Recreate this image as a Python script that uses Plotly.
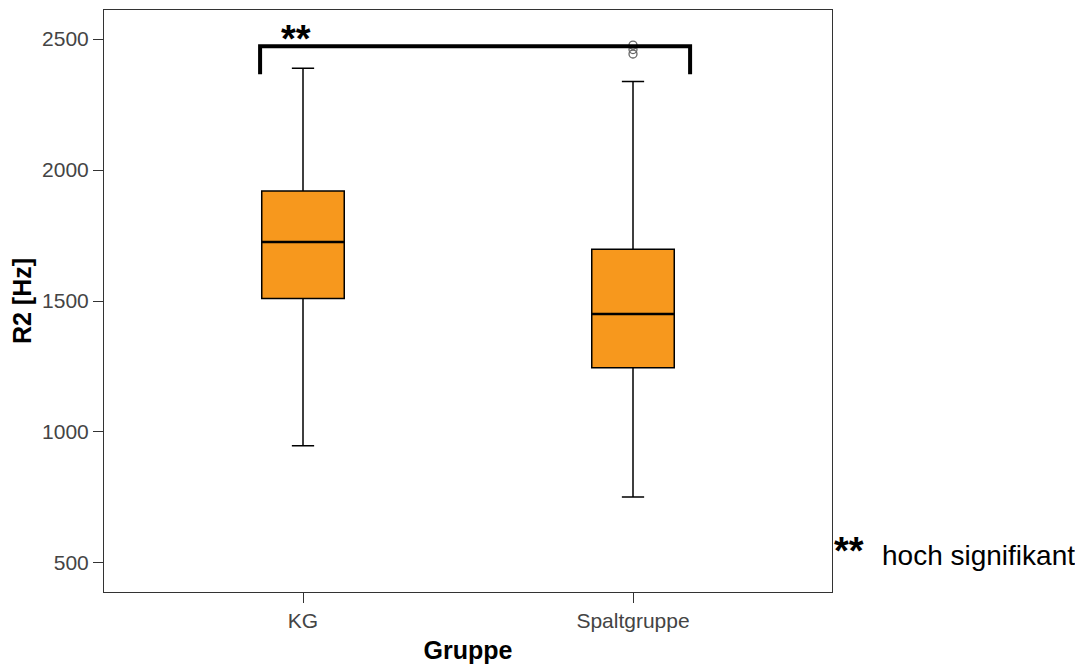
import plotly.graph_objects as go

groups = ["KG", "Spaltgruppe"]
q1 = [1510, 1245]
median = [1725, 1450]
q3 = [1920, 1698]
lower_fence = [947, 752]
upper_fence = [2389, 2338]
outlier_group = [1, 1, 1]
outlier_values = [2477, 2460, 2443]
y_ticks = [500, 1000, 1500, 2000, 2500]

FONT = "Liberation Sans, Arial"
BOX_W = 0.25

fig = go.Figure()
for i, g in enumerate(groups):
    fig.add_trace(go.Box(
        x=[i], q1=[q1[i]], median=[median[i]], q3=[q3[i]],
        lowerfence=[lower_fence[i]], upperfence=[upper_fence[i]],
        width=BOX_W, whiskerwidth=0.27,
        fillcolor="#F7981D", line=dict(color="black", width=1.5),
        boxpoints=False, name=g, showlegend=False, hoverinfo="skip"))
    # thicker median line
    fig.add_trace(go.Scatter(
        x=[i - BOX_W / 2, i + BOX_W / 2], y=[median[i], median[i]], mode="lines",
        line=dict(color="black", width=2.5), showlegend=False, hoverinfo="skip"))

fig.add_trace(go.Scatter(
    x=outlier_group, y=outlier_values, mode="markers",
    marker=dict(symbol="circle-open", size=8, color="#666666", line=dict(width=1.3)),
    showlegend=False, hoverinfo="skip"))

# significance bracket
fig.add_shape(type="path", xref="x", yref="y",
              path="M -0.13,2366 L -0.13,2473 L 1.173,2473 L 1.173,2366",
              line=dict(color="black", width=4))
fig.add_annotation(x=-0.022, y=2588, xref="x", yref="y", text="<b>**</b>",
                   showarrow=False, yanchor="top",
                   font=dict(size=38, color="black", family=FONT))

fig.add_annotation(x=1.0, y=0.071, xref="paper", yref="paper", text="<b>**</b>",
                   showarrow=False, xanchor="left", yanchor="middle",
                   font=dict(size=38, color="black", family=FONT))
fig.add_annotation(x=1.066, y=0.063, xref="paper", yref="paper", text="hoch signifikant",
                   showarrow=False, xanchor="left", yanchor="middle",
                   font=dict(size=28, color="black", family=FONT))

axis_common = dict(showline=True, linecolor="#333333", linewidth=1, mirror=True,
                   ticks="outside", ticklen=10, tickcolor="#333333", showgrid=False,
                   zeroline=False, tickfont=dict(size=21, color="#444444", family=FONT))
fig.update_xaxes(range=[-0.603, 1.603], tickvals=[0, 1], ticktext=groups,
                 title=dict(text="<b>Gruppe</b>", font=dict(size=25, color="black",
                            family=FONT), standoff=10),
                 **axis_common)
fig.update_yaxes(range=[389, 2611], tickvals=y_ticks,
                 title=dict(text="<b>R2 [Hz]</b>", font=dict(size=25, color="black",
                            family=FONT), standoff=10),
                 **axis_common)
fig.update_layout(width=1083, height=668, plot_bgcolor="white", paper_bgcolor="white",
                  margin=dict(l=96, r=259, t=2, b=84))
fig.write_html("out.html")
